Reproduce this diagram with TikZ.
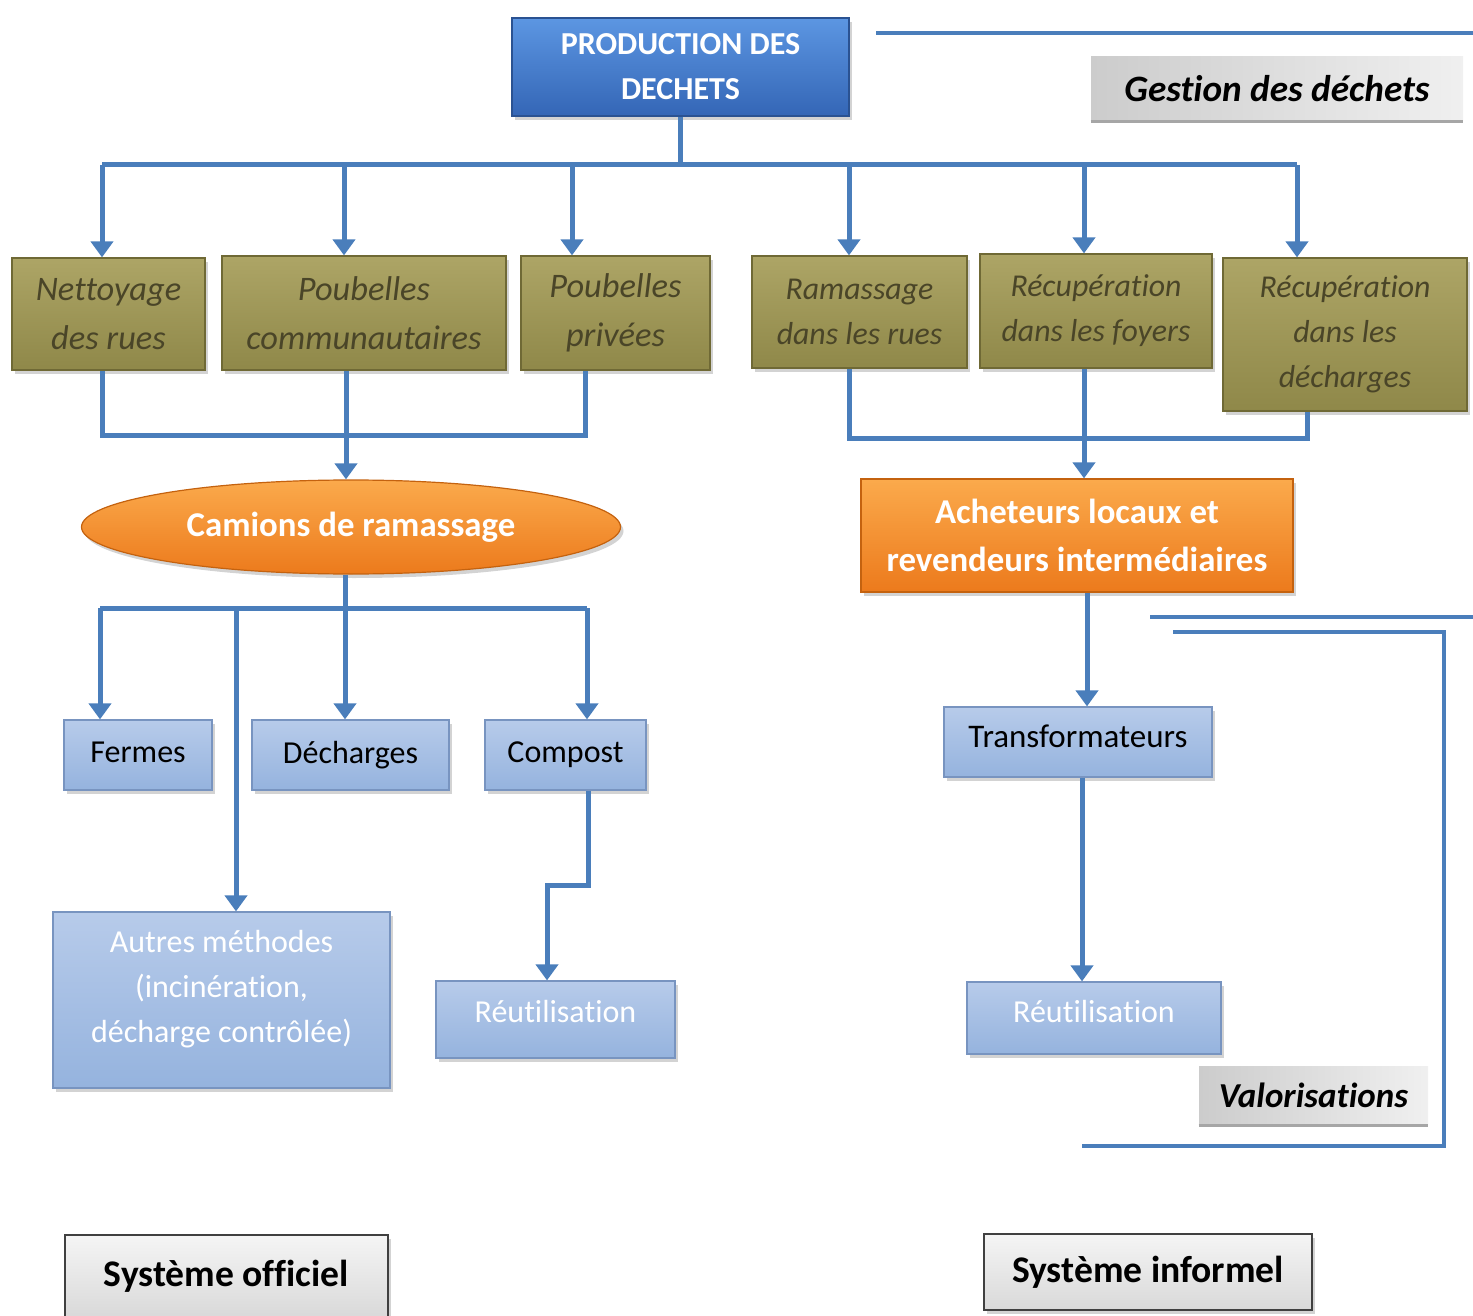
\documentclass[tikz,border=0pt]{standalone}
\usepackage{fontspec}
\setmainfont{Carlito}[Ligatures=NoCommon]
\usetikzlibrary{arrows.meta,shapes.geometric,shadows}

\definecolor{linkblue}{HTML}{4A7EBB}
\definecolor{prodtop}{HTML}{5C96E2}
\definecolor{prodbot}{HTML}{3466B6}
\definecolor{olivetop}{HTML}{ADA566}
\definecolor{olivebot}{HTML}{8F8849}
\definecolor{oliveline}{HTML}{6F6935}
\definecolor{olivetext}{HTML}{4A4528}
\definecolor{bluetop}{HTML}{B7CBEA}
\definecolor{bluebot}{HTML}{95B3DE}
\definecolor{blueline}{HTML}{7894C0}
\definecolor{orangetop}{HTML}{FBAA4C}
\definecolor{orangebot}{HTML}{EC7A1C}
\definecolor{orangeline}{HTML}{C4620F}

\tikzset{
  link/.style={draw=linkblue, line width=2.5pt},
  tip/.style={-{Triangle[width=11pt,length=8pt]}},
  shade/.style={drop shadow={shadow xshift=1.5pt, shadow yshift=-2pt, opacity=0.35}},
  prodbox/.style={shade, rectangle, draw=prodbot!80!black, line width=0.6pt,
    top color=prodtop, bottom color=prodbot, text=white, align=center, inner sep=0pt,
    font=\fontsize{16}{22.5}\selectfont\bfseries},
  sourcebox/.style={shade, rectangle, draw=oliveline, line width=0.6pt,
    top color=olivetop, bottom color=olivebot, text=olivetext, align=center, inner sep=0pt,
    font=\fontsize{17.2}{24.5}\selectfont\itshape},
  orangebox/.style={shade, draw=orangeline, line width=0.6pt,
    top color=orangetop, bottom color=orangebot, text=white, align=center, inner sep=0pt,
    font=\fontsize{17.4}{24}\selectfont\bfseries},
  bluebox/.style={shade, rectangle, draw=blueline, line width=0.6pt,
    top color=bluetop, bottom color=bluebot, text=black, align=center, inner sep=0pt,
    font=\fontsize{16}{22.5}\selectfont},
  marble/.style={rectangle, left color=gray!40, right color=gray!12, inner sep=0pt,
    font=\fontsize{18.6}{20}\selectfont\bfseries\itshape},
  systembox/.style={shade, rectangle, draw=black!75, line width=0.9pt,
    top color=gray!8, bottom color=gray!30, inner sep=0pt,
    font=\fontsize{18.8}{20}\selectfont\bfseries}
}

\begin{document}
\begin{tikzpicture}[x=0.5pt, y=-0.5pt]
  \useasboundingbox (0,0) rectangle (1473,1316);

  % junction points of the connectors
  \coordinate (t1) at (102,165);
  \coordinate (t2) at (344,165);
  \coordinate (t3) at (572,165);
  \coordinate (t4) at (849,165);
  \coordinate (t5) at (1084,165);
  \coordinate (t6) at (1297,165);
  \coordinate (b1) at (102,435);
  \coordinate (b2) at (346,435);
  \coordinate (b3) at (585,435);
  \coordinate (r1) at (849,438);
  \coordinate (r2) at (1084,438);
  \coordinate (r3) at (1307,438);
  \coordinate (d1) at (100,608);
  \coordinate (d2) at (236,608);
  \coordinate (d3) at (345,608);
  \coordinate (d4) at (587,608);
  \coordinate (k1) at (588,885);
  \coordinate (k2) at (547,885);

  % boxes
  \node [prodbox, minimum width=168.5pt, minimum height=49pt] (prod) at (680.5,67) {PRODUCTION DES\\DECHETS};
  \node [marble, minimum width=186pt, minimum height=32pt] (gest) at (1277,89) {Gestion des déchets};
  \draw [gray!70, line width=1.5pt] (gest.south west) -- (gest.south east);

  \node [sourcebox, minimum width=96.5pt, minimum height=56pt] (net) at (108.5,314) {Nettoyage\\des rues};
  \node [sourcebox, minimum width=142pt, minimum height=57pt] (pcom) at (364,313) {Poubelles\\communautaires};
  \node [sourcebox, minimum width=94.5pt, minimum height=57pt] (ppriv) at (615.5,313) {Poubelles\\privées};
  \node [sourcebox, minimum width=107.5pt, minimum height=56pt,
    font=\fontsize{15.9}{22.5}\selectfont\itshape] (ram) at (859.5,312) {Ramassage\\dans les rues};
  \node [sourcebox, minimum width=116pt, minimum height=57pt,
    font=\fontsize{15.9}{22.5}\selectfont\itshape] (rfoy) at (1096,311) {Récupération\\dans les foyers};
  \node [sourcebox, minimum width=122pt, minimum height=76.5pt,
    font=\fontsize{15.9}{22.5}\selectfont\itshape] (rdec) at (1345,334.5) {Récupération\\dans les\\décharges};

  \node [orangebox, ellipse, minimum width=269.5pt, minimum height=47pt] (cam) at (351,527) {Camions de ramassage};
  \node [orangebox, rectangle, minimum width=216pt, minimum height=56.5pt] (ach) at (1077,535.5) {Acheteurs locaux et\\revendeurs intermédiaires};

  \node [bluebox, minimum width=74pt, minimum height=35pt, text depth=3pt] (ferm) at (138,755) {Fermes};
  \node [bluebox, minimum width=98.5pt, minimum height=35pt] (dech) at (350.5,755) {Décharges};
  \node [bluebox, minimum width=80.5pt, minimum height=35pt] (comp) at (565.5,755) {Compost};
  \node [bluebox, font=\fontsize{16.5}{22.5}\selectfont, minimum width=134pt, minimum height=35pt,
    text depth=6pt] (trans) at (1078,742) {Transformateurs};
  \node [bluebox, text=white, minimum width=168.5pt, minimum height=88pt, text depth=14pt] (autr) at (221.5,1000)
    {Autres méthodes\\(incinération,\\décharge contrôlée)};
  \node [bluebox, text=white, minimum width=119.5pt, minimum height=38.5pt, text depth=8pt] (reu1) at (555.5,1019.5) {Réutilisation};
  \node [bluebox, text=white, minimum width=127pt, minimum height=36pt, text depth=7pt] (reu2) at (1094,1018) {Réutilisation};

  \node [marble, font=\fontsize{17.5}{20}\selectfont\bfseries\itshape,
    minimum width=114.5pt, minimum height=29.5pt] (valo) at (1313.5,1095.5) {Valorisations};
  \draw [gray!70, line width=1.5pt] (valo.south west) -- (valo.south east);

  \node [systembox, minimum width=161.5pt, minimum height=41.5pt] (sof) at (226.5,1276.5) {Système officiel};
  \node [systembox, minimum width=164pt, minimum height=38pt] (sinf) at (1148,1272) {Système informel};

  % connectors
  \draw [link] (prod.south) -- (prod.south |- t1);
  \draw [link] (t1) -- (t6);
  \foreach \j/\b in {t1/net, t2/pcom, t3/ppriv, t4/ram, t5/rfoy, t6/rdec}
    \draw [link, tip] (\j) -- (\j |- \b.north);

  \draw [link] (b1 |- net.south) -- (b1) -- (b3) -- (b3 |- ppriv.south);
  \draw [link, tip] (b2 |- pcom.south) -- (b2 |- cam.north);
  \draw [link] (r1 |- ram.south) -- (r1) -- (r3) -- (r3 |- rdec.south);
  \draw [link, tip] (r2 |- rfoy.south) -- (r2 |- ach.north);

  \draw [link] (d3 |- cam.south) -- (d3);
  \draw [link] (d1) -- (d4);
  \foreach \j/\b in {d1/ferm, d3/dech, d4/comp, d2/autr}
    \draw [link, tip] (\j) -- (\j |- \b.north);
  \draw [link, tip] (k1 |- comp.south) -- (k1) -- (k2) -- (k2 |- reu1.north);

  \draw [link, tip] (1087,0 |- ach.south) -- (1087,0 |- trans.north);
  \draw [link, tip] (1082,0 |- trans.south) -- (1082,0 |- reu2.north);

  % frame lines
  \draw [link, line width=2pt] (876,33) -- (1473,33);
  \draw [link, line width=2pt] (1150,617) -- (1473,617);
  \draw [link, line width=2pt] (1173,632) -- (1444,632) -- (1444,1146) -- (1082,1146);
\end{tikzpicture}
\end{document}
